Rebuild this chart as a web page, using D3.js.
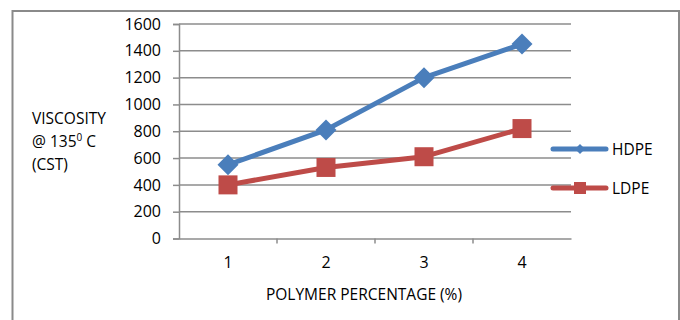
<!DOCTYPE html>
<html><head><meta charset="utf-8">
<script src="https://cdn.jsdelivr.net/npm/d3@7"></script>
<style>body{margin:0;background:#fff}svg{display:block}</style>
</head><body><svg id="c" width="680" height="320"></svg>
<script>
const categories = ["1","2","3","4"];
const hdpe = [550, 810, 1200, 1450];
const ldpe = [400, 530, 610, 820];
const yTicks = [0,200,400,600,800,1000,1200,1400,1600];
const seriesNames = ["HDPE","LDPE"];

const font = "'Open Sans', sans-serif";
const fs = 15.5;
const svg = d3.select("#c");
const L = 179, R = 571, T = 24, B = 238.5;
const x = d3.scaleBand().domain(categories).range([L, R]);
const y = d3.scaleLinear().domain([0,1600]).range([B, T]);

// outer border
svg.append("rect").attr("x",12.5).attr("y",11).attr("width",666.5).attr("height",320)
  .attr("fill","none").attr("stroke","#8a8a8a").attr("stroke-width",2);

// gridlines
svg.append("g").selectAll("line").data(yTicks.slice(1)).join("line")
  .attr("x1",L).attr("x2",R).attr("y1",d=>y(d)).attr("y2",d=>y(d))
  .attr("stroke","#8c8c8c").attr("stroke-width",1.5);

// y axis
const ya = svg.append("g").attr("transform",`translate(${L},0)`)
  .call(d3.axisLeft(y).tickValues(yTicks).tickFormat(d3.format("d")).tickSize(6).tickPadding(12));
ya.select(".domain").attr("stroke","#8c8c8c").attr("stroke-width",1.5);
ya.selectAll(".tick line").attr("stroke","#8c8c8c").attr("stroke-width",1.5);
ya.selectAll("text").attr("font-family",font).attr("font-size",16).attr("fill","#000");

// x axis
const xa = svg.append("g").attr("transform",`translate(0,${B})`)
  .call(d3.axisBottom(x).tickSize(0).tickPadding(18));
xa.select(".domain").attr("stroke","#8c8c8c").attr("stroke-width",1.5);
xa.selectAll("text").attr("font-family",font).attr("font-size",16).attr("fill","#000");
// band boundary ticks
svg.append("g").selectAll("line").data(categories.slice(1)).join("line")
  .attr("x1",d=>x(d)).attr("x2",d=>x(d)).attr("y1",B).attr("y2",B+5)
  .attr("stroke","#8c8c8c").attr("stroke-width",1.5);

// titles
const yt = svg.append("text").attr("font-family",font).attr("font-size",fs).attr("fill","#000");
yt.append("tspan").attr("x",32).attr("y",124).text("VISCOSITY");
yt.append("tspan").attr("x",32).attr("y",147).text("@ 135");
yt.append("tspan").attr("dy",-6).attr("font-size",10).text("0");
yt.append("tspan").attr("dy",6).text(" C");
yt.append("tspan").attr("x",32).attr("y",170).text("(CST)");

svg.append("text").attr("x",364).attr("y",300).attr("text-anchor","middle")
  .attr("font-family",font).attr("font-size",fs).attr("fill","#000").text("POLYMER PERCENTAGE (%)");

const cx = d => x(d) + x.bandwidth()/2;
const line = d3.line().x((d,i)=>cx(categories[i])).y(d=>y(d));
const blue = "#4a7ebb", red = "#be4b48";

svg.append("path").datum(ldpe).attr("d",line).attr("fill","none").attr("stroke",red).attr("stroke-width",5).attr("stroke-linejoin","round");
svg.append("path").datum(hdpe).attr("d",line).attr("fill","none").attr("stroke",blue).attr("stroke-width",5).attr("stroke-linejoin","round");

const diamond = s => `M0,${-s}L${s},0L0,${s}L${-s},0Z`;
svg.append("g").selectAll("path").data(hdpe).join("path")
  .attr("transform",(d,i)=>`translate(${cx(categories[i])},${y(d)})`)
  .attr("d",diamond(10.5)).attr("fill",blue);
svg.append("g").selectAll("rect").data(ldpe).join("rect")
  .attr("x",(d,i)=>cx(categories[i])-9.5).attr("y",d=>y(d)-9.5)
  .attr("width",19).attr("height",19).attr("fill",red);

// legend
const lg = [{n:seriesNames[0],c:blue,y:149},{n:seriesNames[1],c:red,y:188}];
lg.forEach((l,i)=>{
  svg.append("line").attr("x1",553).attr("x2",606).attr("y1",l.y).attr("y2",l.y)
    .attr("stroke",l.c).attr("stroke-width",5).attr("stroke-linecap","round");
  if(i===0) svg.append("path").attr("transform",`translate(580,${l.y})`).attr("d",diamond(5)).attr("fill",l.c);
  else svg.append("rect").attr("x",574).attr("y",l.y-6).attr("width",12).attr("height",12).attr("fill",l.c);
  svg.append("text").attr("x",612).attr("y",l.y+5.5).attr("font-family",font).attr("font-size",fs).attr("fill","#000").text(l.n);
});
</script></body></html>
